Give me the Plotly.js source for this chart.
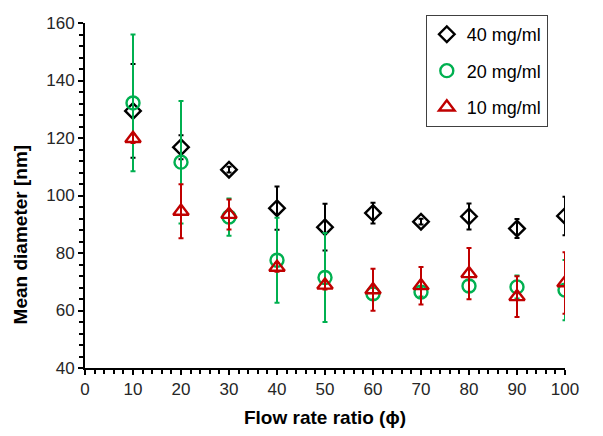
<!DOCTYPE html>
<html>
<head>
<meta charset="utf-8">
<script src="https://cdn.plot.ly/plotly-3.0.1.min.js"></script>
<style>html,body{margin:0;padding:0;background:#fff;}#chart{width:603px;height:436px;}</style>
</head>
<body>
<div id="chart"></div>
<script>
const flowRatio = [10, 20, 30, 40, 50, 60, 70, 80, 90, 100];

const mean40 = [129.4, 116.8, 109.0, 95.6, 89.0, 93.9, 90.9, 92.7, 88.5, 92.9];
const err40  = [16.3, 4.2, 1.0, 7.5, 8.1, 3.6, 1.0, 4.5, 3.3, 6.7];

const mean20 = [132.2, 111.6, 92.5, 77.5, 71.5, 65.8, 66.4, 68.5, 68.2, 67.1];
const err20  = [23.8, 21.3, 6.5, 14.8, 15.5, 2.0, 1.5, 2.0, 4.0, 10.5];

const mean10 = [119.8, 94.5, 93.4, 75.0, 68.8, 67.2, 68.6, 72.8, 64.8, 69.6];
const err10  = [1.5, 9.4, 5.2, 1.5, 1.5, 7.3, 6.5, 8.9, 7.1, 10.7];

const labels = ['40 mg/ml', '20 mg/ml', '10 mg/ml'];
const colors = ['#000000', '#00b050', '#c00000'];
const xTitle = 'Flow rate ratio (ϕ)';
const yTitle = 'Mean diameter [nm]';

function mk(y, e, name, color, symbol, size, grp) {
  return {
    x: flowRatio, y: y, name: name, type: 'scatter', mode: 'markers',
    legendgroup: grp,
    marker: {symbol: symbol, size: size, color: color, line: {color: color, width: 2.4}},
    error_y: {type: 'data', array: e, visible: true, color: color, thickness: 2, width: 2.5}
  };
}

const data = [
  mk(mean40, err40, labels[0], colors[0], 'diamond-open', 12, 'a'),
  mk(mean20, err20, labels[1], colors[1], 'circle-open', 13, 'b'),
  mk(mean10, err10, labels[2], colors[2], 'triangle-up-open', 13.5, 'c')
];

const tickFont = {family: 'Liberation Sans, Arial, sans-serif', size: 17, color: '#262626'};
const titleFont = {family: 'Liberation Sans, Arial, sans-serif', size: 19, color: '#000000', weight: 'bold'};

const layout = {
  width: 603, height: 436,
  margin: {l: 85, r: 38, t: 23, b: 68},
  paper_bgcolor: '#ffffff', plot_bgcolor: '#ffffff',
  showlegend: true,
  legend: {
    x: 0.71, y: 1.023, xanchor: 'left', yanchor: 'top',
    bordercolor: '#404040', borderwidth: 1, bgcolor: '#ffffff',
    font: {family: 'Liberation Sans, Arial, sans-serif', size: 18, color: '#000000'},
    traceorder: 'grouped', tracegroupgap: 10, itemwidth: 30
  },
  xaxis: {
    range: [0, 100], tickvals: [0,10,20,30,40,50,60,70,80,90,100],
    ticktext: ['0','10','20','30','40','50','60','70','80','90','100'],
    showgrid: false, zeroline: false, showline: true, linecolor: '#000', linewidth: 2,
    ticks: 'outside', ticklen: 5, tickwidth: 2, tickcolor: '#000',
    minor: {dtick: 2, ticks: 'outside', ticklen: 4, tickwidth: 2, tickcolor: '#000', showgrid: false},
    tickfont: tickFont,
    title: {text: xTitle, font: titleFont, standoff: 12}
  },
  yaxis: {
    range: [40, 160], tickvals: [40,60,80,100,120,140,160],
    ticktext: ['40','60','80','100','120','140','160'],
    showgrid: false, zeroline: false, showline: true, linecolor: '#000', linewidth: 2,
    ticks: 'outside', ticklen: 5, tickwidth: 2, tickcolor: '#000',
    minor: {dtick: 4, ticks: 'outside', ticklen: 4, tickwidth: 2, tickcolor: '#000', showgrid: false},
    tickfont: tickFont
  },
  annotations: [{
    text: yTitle, font: titleFont, textangle: -90, showarrow: false,
    xref: 'paper', yref: 'paper', x: -0.135, y: 0.385, xanchor: 'center', yanchor: 'middle'
  }]
};

Plotly.newPlot('chart', data, layout, {displayModeBar: false, staticPlot: true});
</script>
</body>
</html>
